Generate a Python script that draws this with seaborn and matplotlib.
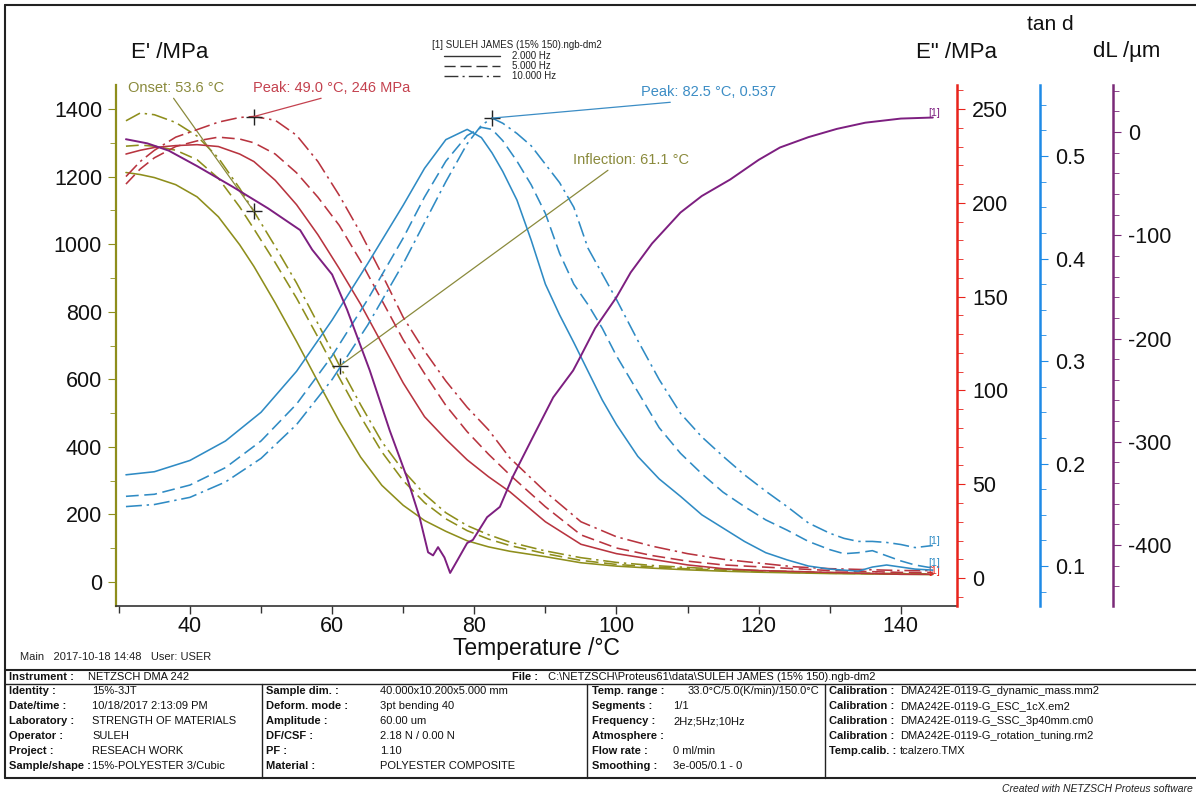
import matplotlib
matplotlib.use("Agg")
import numpy as np
import pandas as pd
import seaborn as sns
import matplotlib.pyplot as plt
from matplotlib.lines import Line2D
from matplotlib.ticker import MultipleLocator

# ---------------------------------------------------------------- data
freq_labels = ["2.000 Hz", "5.000 Hz", "10.000 Hz"]

# temperature grid for storage / loss modulus (°C)
t_mod = [31, 33, 35, 38, 41, 44, 47, 49, 52, 55, 58, 61, 64, 67, 70, 73, 76, 79,
         82, 85, 90, 95, 100, 105, 110, 115, 120, 125, 130, 135, 140, 144.5]

# storage modulus E' (MPa)
e_store_2hz = [1212, 1206, 1197, 1176, 1140, 1081, 998, 934, 826, 712, 593, 476, 370,
               286, 227, 182, 150, 122, 104, 91, 75, 57, 47, 41, 36, 32, 29, 27, 25, 24, 23, 22]
e_store_5hz = [1290, 1293, 1290, 1278, 1250, 1195, 1110, 1045, 945, 840, 725, 605, 490,
               385, 300, 235, 187, 152, 127, 108, 84, 64, 52, 45, 39, 35, 31, 28, 26, 25, 24, 23]
e_store_10hz = [1365, 1388, 1383, 1360, 1320, 1255, 1165, 1097, 993, 885, 765, 642, 525,
                415, 330, 260, 205, 167, 140, 118, 92, 72, 58, 49, 43, 38, 34, 31, 28, 26, 25, 24]

# loss modulus E'' (MPa)
e_loss_2hz = [226, 228, 229.5, 230.5, 231, 230, 226, 222, 212, 199, 183, 165, 146, 125,
              104, 86, 74, 63, 54, 46, 30, 18, 13, 10, 7, 5, 4, 3.5, 3, 2.5, 2, 2]
e_loss_5hz = [210, 218, 224, 230, 233, 235, 234, 232, 226, 216, 203, 188, 169, 148, 127,
              109, 92, 78, 66, 55, 38, 23, 16, 12, 9, 7, 6, 5, 4, 3.5, 3, 3]
e_loss_10hz = [214, 222, 228, 235, 239, 243, 245.5, 246, 244, 236, 222, 204, 184, 162,
               139, 121, 105, 91, 79, 64, 46, 30, 22, 17, 13, 10, 8, 6, 5, 4.5, 4, 4]

# loss factor tan d
t_tan = [31, 35, 40, 45, 50, 55, 60, 65, 70, 73, 76, 79, 81, 82.5, 84, 86, 88, 90, 92, 94,
         96, 98, 100, 103, 106, 109, 112, 115, 118, 121, 124, 127, 130, 132, 134, 136, 138,
         140, 142, 144.5]
tan_2hz = [0.189, 0.192, 0.203, 0.222, 0.250, 0.290, 0.340, 0.395, 0.452, 0.488, 0.516,
           0.526, 0.518, 0.503, 0.485, 0.457, 0.418, 0.375, 0.345, 0.318, 0.290, 0.262,
           0.238, 0.207, 0.185, 0.168, 0.150, 0.137, 0.124, 0.113, 0.106, 0.100, 0.097,
           0.096, 0.095, 0.099, 0.101, 0.099, 0.097, 0.096]
tan_5hz = [0.168, 0.170, 0.179, 0.196, 0.222, 0.258, 0.305, 0.360, 0.420, 0.460, 0.495,
           0.520, 0.528, 0.526, 0.515, 0.495, 0.472, 0.444, 0.405, 0.375, 0.355, 0.332,
           0.305, 0.270, 0.235, 0.210, 0.190, 0.172, 0.158, 0.145, 0.135, 0.124, 0.116,
           0.112, 0.113, 0.115, 0.110, 0.105, 0.101, 0.098]
tan_10hz = [0.158, 0.160, 0.167, 0.182, 0.205, 0.238, 0.282, 0.335, 0.395, 0.435, 0.475,
            0.512, 0.530, 0.537, 0.532, 0.522, 0.510, 0.492, 0.474, 0.450, 0.410, 0.385,
            0.360, 0.320, 0.282, 0.249, 0.226, 0.207, 0.189, 0.173, 0.158, 0.142, 0.132,
            0.127, 0.124, 0.124, 0.123, 0.121, 0.118, 0.120]

# length change dL (µm)
t_dl = [31, 34, 37, 41, 46, 51, 55.5, 57.2, 60, 62.1, 65.3, 68.1, 70.5, 72.3, 73.5, 74.2,
        74.9, 75.8, 76.6, 77.6, 79, 79.8, 81.8, 83.6, 85.4, 88.2, 91.1, 93.9, 94.9, 97,
        100, 102, 105, 109, 112, 116, 120, 123, 127, 131, 135, 140, 144.5]
dl_values = [-7, -11, -18, -33, -53, -74, -95, -114, -138, -172, -231, -289, -334, -373,
             -407, -410, -402, -412, -427, -415, -398, -395, -373, -363, -334, -296, -257,
             -231, -218, -190, -160, -136, -108, -78, -62, -46, -27, -15, -5, 3, 9, 13, 14]

# evaluation results
onset_temp = 53.6
onset_mark_t, onset_mark_e = 49.0, 1097
peak_loss_t, peak_loss_e = 49.0, 246
peak_tan_t, peak_tan_v = 82.5, 0.537
inflect_t, inflect_e = 61.1, 640

x_ticks = [40, 60, 80, 100, 120, 140]

# ---------------------------------------------------------------- style
sns.set_style("white")
plt.rcParams["font.family"] = ["Liberation Sans", "DejaVu Sans"]
plt.rcParams["axes.unicode_minus"] = False

OLIVE = "#8e8e1c"
OLIVE_TXT = "#8a8a3c"
RED_C = "#b8343f"
RED_S = "#e8231b"
RED_TXT = "#c4424f"
BLUE_C = "#2f8bc4"
BLUE_S = "#1e8ae6"
BLUE_TXT = "#3c8dc5"
PURPLE = "#7d1f80"
PURPLE_S = "#7a2a78"

dash_map = {"2.000 Hz": "", "5.000 Hz": (8, 3.5), "10.000 Hz": (10, 3, 1.5, 3)}

W, H = 1196, 794
fig = plt.figure(figsize=(W / 100, H / 100), dpi=100)


def fx(px):
    return px / W


def fy(py):
    return 1 - py / H


ax = fig.add_axes([fx(116), fy(606), fx(957) - fx(116), (606 - 85) / H])
ax_loss = ax.twinx()
ax_tan = ax.twinx()
ax_dl = ax.twinx()


def long_frame(t, series):
    parts = [pd.DataFrame({"T": t, "v": vals, "freq": lab})
             for lab, vals in zip(freq_labels, series)]
    return pd.concat(parts, ignore_index=True)


df_store = long_frame(t_mod, [e_store_2hz, e_store_5hz, e_store_10hz])
df_loss = long_frame(t_mod, [e_loss_2hz, e_loss_5hz, e_loss_10hz])
df_tan = long_frame(t_tan, [tan_2hz, tan_5hz, tan_10hz])
df_dl = pd.DataFrame({"T": t_dl, "v": dl_values})

common = dict(x="T", y="v", style="freq", dashes=dash_map, estimator=None,
              legend=False, lw=1.15, sort=False)
sns.lineplot(data=df_store, ax=ax, color=OLIVE, **common)
sns.lineplot(data=df_loss, ax=ax_loss, color=RED_C, **common)
sns.lineplot(data=df_tan, ax=ax_tan, color=BLUE_C, **common)
sns.lineplot(data=df_dl, x="T", y="v", ax=ax_dl, color=PURPLE, lw=1.4,
             estimator=None, legend=False, sort=False)

# ---------------------------------------------------------------- axes
ax.set_xlim(29.6, 147.9)
ax.set_ylim(-71, 1471)
ax_loss.set_ylim(-14.9, 262.8)
ax_tan.set_ylim(0.061, 0.5693)
ax_dl.set_ylim(-459, 45.5)

TICK_FS = 15.5
for a in (ax, ax_loss, ax_tan, ax_dl):
    a.set_xlabel("")
    a.set_ylabel("")
    for s in a.spines.values():
        s.set_visible(False)
    a.patch.set_visible(False)

ax.spines["left"].set_visible(True)
ax.spines["left"].set_color(OLIVE)
ax.spines["left"].set_linewidth(1.6)
ax.spines["bottom"].set_visible(True)
ax.spines["bottom"].set_color("#333333")
ax.spines["bottom"].set_linewidth(1.2)

ax.set_xticks(x_ticks)
ax.xaxis.set_minor_locator(MultipleLocator(10))
ax.tick_params(axis="x", which="both", bottom=True, direction="out", colors="#333333",
               labelsize=TICK_FS, labelcolor="#111111", pad=1)
ax.tick_params(axis="x", which="major", length=6, width=1)
ax.tick_params(axis="x", which="minor", length=5, width=1)
ax.tick_params(axis="y", which="both", left=True, direction="out", colors=OLIVE,
               labelsize=TICK_FS, labelcolor="#111111", pad=4)
ax.tick_params(axis="y", which="major", length=6)
ax.tick_params(axis="y", which="minor", length=4)
ax.set_yticks([0, 200, 400, 600, 800, 1000, 1200, 1400])
ax.yaxis.set_minor_locator(MultipleLocator(100))

right_axes = [(ax_loss, 1.0, RED_S, 50, 10),
              (ax_tan, 1.0987, BLUE_S, 0.1, 0.025),
              (ax_dl, 1.1855, PURPLE_S, 100, 20)]
for a, pos, col, major, minor in right_axes:
    sp = a.spines["right"]
    sp.set_visible(True)
    sp.set_position(("axes", pos))
    sp.set_color(col)
    sp.set_linewidth(1.8)
    a.yaxis.set_major_locator(MultipleLocator(major))
    a.yaxis.set_minor_locator(MultipleLocator(minor))
    a.tick_params(axis="y", which="both", right=True, direction="out", colors=col,
                  labelsize=TICK_FS, labelcolor="#111111", pad=5)
    a.tick_params(axis="y", which="major", length=6)
    a.tick_params(axis="y", which="minor", length=4)
ax_loss.set_yticks([0, 50, 100, 150, 200, 250])
ax_loss.yaxis.set_minor_locator(MultipleLocator(10))
ax_tan.set_yticks([0.1, 0.2, 0.3, 0.4, 0.5])
ax_tan.set_yticklabels(["0.1", "0.2", "0.3", "0.4", "0.5"])
ax_tan.yaxis.set_minor_locator(MultipleLocator(0.025))
ax_dl.set_yticks([-400, -300, -200, -100, 0])
ax_dl.yaxis.set_minor_locator(MultipleLocator(20))

# axis titles
fig.text(fx(170), fy(52), "E' /MPa", fontsize=16, ha="center", va="center", color="#111111")
fig.text(fx(957), fy(52), "E\" /MPa", fontsize=16, ha="center", va="center", color="#111111")
fig.text(fx(1050), fy(24), "tan d", fontsize=15, ha="center", va="center", color="#111111")
fig.text(fx(1127), fy(52), "dL /µm", fontsize=16, ha="center", va="center", color="#111111")
fig.text(fx(536), fy(649), "Temperature /°C", fontsize=16.5, ha="center", va="center",
         color="#111111")

# ---------------------------------------------------------------- evaluations
cross = dict(marker="+", ms=12, mew=1.0, color="#222222", ls="none", zorder=6)
ax.plot([onset_mark_t], [onset_mark_e], **cross)
ax.plot([inflect_t], [inflect_e], **cross)
ax_loss.plot([peak_loss_t], [peak_loss_e], **cross)
ax_tan.plot([peak_tan_t], [peak_tan_v], **cross)

ANN_FS = 10.5


def leader(axis, xy, text, px, py, col, rel):
    axis.annotate(text, xy=xy, xycoords="data", xytext=(px, H - py),
                  textcoords="figure pixels", ha="left", va="center", fontsize=ANN_FS,
                  color=col, zorder=7,
                  arrowprops=dict(arrowstyle="-", color=col, lw=0.9, shrinkA=0,
                                  shrinkB=0, relpos=(rel, 0.0)))


leader(ax, (onset_mark_t, onset_mark_e), f"Onset: {onset_temp:.1f} °C", 128, 88,
       OLIVE_TXT, 0.45)
leader(ax_loss, (peak_loss_t, peak_loss_e),
       f"Peak: {peak_loss_t:.1f} °C, {peak_loss_e:.0f} MPa", 253, 88, RED_TXT, 0.51)
leader(ax_tan, (peak_tan_t, peak_tan_v),
       f"Peak: {peak_tan_t:.1f} °C, {peak_tan_v:.3f}", 641, 92, BLUE_TXT, 0.49)
leader(ax, (inflect_t, inflect_e), f"Inflection: {inflect_t:.1f} °C", 573, 160,
       OLIVE_TXT, 0.34)

# curve tags at the end of the traces
tag = dict(fontsize=7.5, ha="left", va="bottom")
ax_dl.text(t_dl[-1] - 0.6, dl_values[-1], "[1]", color=PURPLE, **tag)
ax_tan.text(t_tan[-1] - 0.6, tan_10hz[-1], "[1]", color=BLUE_C, **tag)
ax_tan.text(t_tan[-1] - 0.6, tan_5hz[-1], "[1]", color=BLUE_C, **tag)
ax_loss.text(t_mod[-1] - 0.6, e_loss_10hz[-1] - 3, "[1]", color=RED_S, **tag)

# ---------------------------------------------------------------- legend block
fig.text(fx(432), fy(45), "[1] SULEH JAMES (15% 150).ngb-dm2", fontsize=7,
         ha="left", va="center", color="#222222")
leg_y = [56, 66, 76]
for lab, yy in zip(freq_labels, leg_y):
    ln = Line2D([fx(444), fx(500)], [fy(yy), fy(yy)], transform=fig.transFigure,
                color="#333333", lw=1.0)
    if dash_map[lab]:
        ln.set_dashes(dash_map[lab])
    fig.add_artist(ln)
    fig.text(fx(512), fy(yy), lab, fontsize=7, ha="left", va="center", color="#222222")

# ---------------------------------------------------------------- frame and info table
def hline(y, x0, x1, lw=1.2, col="#222222"):
    fig.add_artist(Line2D([fx(x0), fx(x1)], [fy(y), fy(y)], transform=fig.transFigure,
                          color=col, lw=lw))


def vline(x, y0, y1, lw=1.2, col="#222222"):
    fig.add_artist(Line2D([fx(x), fx(x)], [fy(y0), fy(y1)], transform=fig.transFigure,
                          color=col, lw=lw))


hline(5, 5, 1196, lw=1.5)
vline(5, 5, 778, lw=1.5)
hline(670, 5, 1196, lw=1.5)
hline(684, 5, 1196, lw=1.0)
hline(778, 5, 1196, lw=1.5)
for xs in (262, 587, 825):
    vline(xs, 684, 778, lw=1.0)

fig.text(fx(20), fy(657), "Main   2017-10-18 14:48   User: USER", fontsize=8,
         ha="left", va="center", color="#222222")

TFS = 8
fig.text(fx(9), fy(677), "Instrument :", fontsize=TFS, weight="bold", ha="left",
         va="center", color="#111111")
fig.text(fx(88), fy(677), "NETZSCH DMA 242", fontsize=TFS, ha="left", va="center",
         color="#111111")
fig.text(fx(512), fy(677), "File :", fontsize=TFS, weight="bold", ha="left", va="center",
         color="#111111")
fig.text(fx(548), fy(677), "C:\\NETZSCH\\Proteus61\\data\\SULEH JAMES (15% 150).ngb-dm2",
         fontsize=TFS, ha="left", va="center", color="#111111")

col1 = [("Identity :", "15%-3JT"), ("Date/time :", "10/18/2017 2:13:09 PM"),
        ("Laboratory :", "STRENGTH OF MATERIALS"), ("Operator :", "SULEH"),
        ("Project :", "RESEACH WORK"), ("Sample/shape :", "15%-POLYESTER 3/Cubic")]
col2 = [("Sample dim. :", "40.000x10.200x5.000 mm"), ("Deform. mode :", "3pt bending 40"),
        ("Amplitude :", "60.00 um"), ("DF/CSF :", "2.18 N / 0.00 N"), ("PF :", "1.10"),
        ("Material :", "POLYESTER COMPOSITE")]
col3 = [("Temp. range :", "33.0°C/5.0(K/min)/150.0°C"), ("Segments :", "1/1"),
        ("Frequency :", "2Hz;5Hz;10Hz"), ("Atmosphere :", ""), ("Flow rate :", "0 ml/min"),
        ("Smoothing :", "3e-005/0.1 - 0")]
col4 = [("Calibration :", "DMA242E-0119-G_dynamic_mass.mm2"),
        ("Calibration :", "DMA242E-0119-G_ESC_1cX.em2"),
        ("Calibration :", "DMA242E-0119-G_SSC_3p40mm.cm0"),
        ("Calibration :", "DMA242E-0119-G_rotation_tuning.rm2"),
        ("Temp.calib. :", "tcalzero.TMX"), ("", "")]

columns = [(col1, 9, 92), (col2, 266, 380), (col3, 592, 673), (col4, 829, 900)]
row_y = [691, 706, 721, 736, 751, 766]
for rows, xl, xv in columns:
    for (lab, val), yy in zip(rows, row_y):
        fig.text(fx(xl), fy(yy), lab, fontsize=TFS, weight="bold", ha="left",
                 va="center", color="#111111")
        xval = xv if not lab.startswith("Temp. range") else 688
        fig.text(fx(xval), fy(yy), val, fontsize=TFS, ha="left", va="center",
                 color="#111111")

fig.text(fx(1193), fy(789), "Created with NETZSCH Proteus software", fontsize=7.5,
         style="italic", ha="right", va="center", color="#222222")

fig.savefig("out.png", dpi=100)
